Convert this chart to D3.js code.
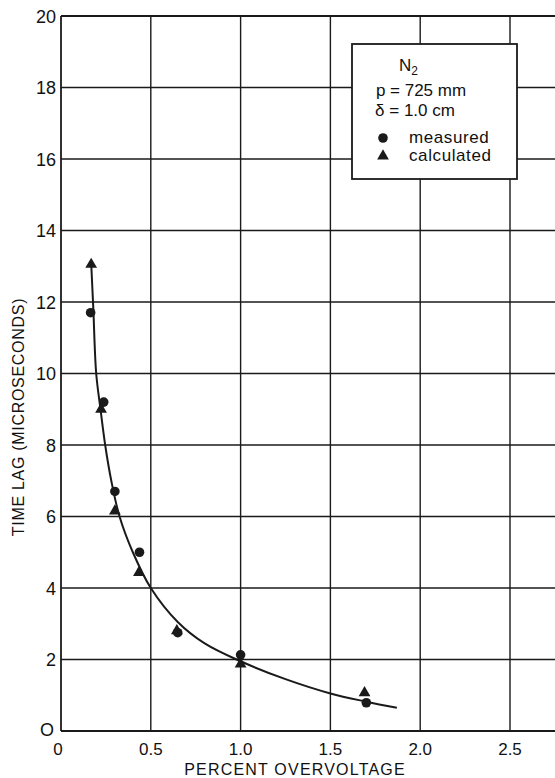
<!DOCTYPE html>
<html>
<head>
<meta charset="utf-8">
<script src="https://cdn.jsdelivr.net/npm/d3@7"></script>
<style>
  body { margin: 0; background: #fff; }
  text { font-family: "Liberation Sans", Arial, sans-serif; fill: #111; }
</style>
</head>
<body>
<script>
// values
var measuredX = [0.165, 0.238, 0.30, 0.437, 0.65, 1.0, 1.70];
var measuredY = [11.7, 9.2, 6.7, 5.0, 2.75, 2.13, 0.79];
var calcX = [0.168, 0.223, 0.30, 0.434, 0.645, 1.0, 1.69];
var calcY = [13.05, 9.0, 6.15, 4.43, 2.8, 1.87, 1.07];
var curveX = [0.168, 0.18, 0.196, 0.22, 0.246, 0.28, 0.326, 0.40, 0.50, 0.65, 0.80, 1.0, 1.25, 1.5, 1.7, 1.87];
var curveY = [13.1, 11.8, 10.0, 9.0, 8.0, 7.0, 6.0, 5.0, 4.0, 3.05, 2.45, 1.95, 1.45, 1.05, 0.82, 0.65];
var xTicks = [0, 0.5, 1.0, 1.5, 2.0, 2.5];
var xTickLabels = ["0", "0.5", "1.0", "1.5", "2.0", "2.5"];
var yTicks = [0, 2, 4, 6, 8, 10, 12, 14, 16, 18, 20];
var yTickLabels = ["O", "2", "4", "6", "8", "10", "12", "14", "16", "18", "20"];

var width = 555, height = 778;
var plotLeft = 61, plotTop = 16, plotBottom = 731;

var svg = d3.select("body").append("svg")
  .attr("width", width).attr("height", height);

var x = d3.scaleLinear().domain([0, 2.5]).range([plotLeft, 510]);
var y = d3.scaleLinear().domain([0, 20]).range([plotBottom, plotTop]);

var ink = "#1a1a1a";

// grid
var g = svg.append("g");
g.selectAll("line.vg").data(xTicks.slice(1)).enter().append("line")
  .attr("x1", d => x(d)).attr("x2", d => x(d))
  .attr("y1", plotTop).attr("y2", plotBottom)
  .attr("stroke", ink).attr("stroke-width", 1.4);
g.selectAll("line.hg").data(yTicks.slice(1)).enter().append("line")
  .attr("x1", plotLeft).attr("x2", width)
  .attr("y1", d => y(d)).attr("y2", d => y(d))
  .attr("stroke", ink).attr("stroke-width", 1.4);
// frame
g.append("line").attr("x1", plotLeft).attr("x2", plotLeft).attr("y1", plotTop).attr("y2", plotBottom)
  .attr("stroke", ink).attr("stroke-width", 1.8);
g.append("line").attr("x1", plotLeft).attr("x2", width).attr("y1", plotBottom).attr("y2", plotBottom)
  .attr("stroke", ink).attr("stroke-width", 1.8);
g.append("line").attr("x1", plotLeft).attr("x2", width).attr("y1", plotTop).attr("y2", plotTop)
  .attr("stroke", ink).attr("stroke-width", 1.8);

// y tick labels
svg.selectAll("text.yt").data(yTicks).enter().append("text")
  .attr("x", (d, i) => i == 0 ? 54 : 56)
  .attr("y", (d, i) => i == 0 ? y(d) + 5 : y(d) + 6.5)
  .attr("text-anchor", "end")
  .style("font-size", "18px")
  .text((d, i) => yTickLabels[i]);

// x tick labels
svg.selectAll("text.xt").data(xTicks).enter().append("text")
  .attr("x", d => d == 0 ? x(d) - 3 : x(d))
  .attr("y", 755)
  .attr("text-anchor", "middle")
  .style("font-size", "17px")
  .text((d, i) => xTickLabels[i]);

// axis titles
svg.append("text")
  .attr("x", 295).attr("y", 775)
  .attr("text-anchor", "middle")
  .style("font-size", "16px").style("letter-spacing", "1.2px")
  .text("PERCENT  OVERVOLTAGE");
svg.append("text")
  .attr("transform", "translate(24,417) rotate(-90)")
  .attr("text-anchor", "middle")
  .style("font-size", "16px").style("letter-spacing", "0.7px")
  .text("TIME LAG (MICROSECONDS)");

// fitted curve
var curvePts = curveX.map((d, i) => [d, curveY[i]]);
svg.append("path")
  .datum(curvePts)
  .attr("fill", "none").attr("stroke", ink).attr("stroke-width", 2)
  .attr("d", d3.line().x(d => x(d[0])).y(d => y(d[1])).curve(d3.curveCatmullRom.alpha(0.5)));

// markers
var tri = d3.symbol().type(d3.symbolTriangle).size(60);
svg.selectAll("path.calc").data(calcX).enter().append("path")
  .attr("d", tri)
  .attr("transform", (d, i) => "translate(" + x(d) + "," + y(calcY[i]) + ")")
  .attr("fill", ink);
svg.selectAll("circle.meas").data(measuredX).enter().append("circle")
  .attr("cx", d => x(d)).attr("cy", (d, i) => y(measuredY[i]))
  .attr("r", 4.8).attr("fill", ink);

// legend
var lg = svg.append("g");
lg.append("rect").attr("x", 352).attr("y", 44).attr("width", 165).attr("height", 135)
  .attr("fill", "#fff").attr("stroke", ink).attr("stroke-width", 1.8);
var n2 = lg.append("text").attr("x", 399).attr("y", 71).style("font-size", "17px");
n2.append("tspan").text("N");
n2.append("tspan").attr("dy", 4).style("font-size", "12px").text("2");
lg.append("text").attr("x", 421).attr("y", 96).attr("text-anchor", "middle")
  .style("font-size", "17px").text("p = 725 mm");
lg.append("text").attr("x", 415).attr("y", 116).attr("text-anchor", "middle")
  .style("font-size", "17px").text("δ = 1.0 cm");
lg.append("circle").attr("cx", 383).attr("cy", 138).attr("r", 4.8).attr("fill", ink);
lg.append("path").attr("d", tri).attr("transform", "translate(383,156)").attr("fill", ink);
lg.append("text").attr("x", 409).attr("y", 143).style("font-size", "17px")
  .style("letter-spacing", "0.6px").text("measured");
lg.append("text").attr("x", 409).attr("y", 161).style("font-size", "17px")
  .style("letter-spacing", "0.6px").text("calculated");
</script>
</body>
</html>
